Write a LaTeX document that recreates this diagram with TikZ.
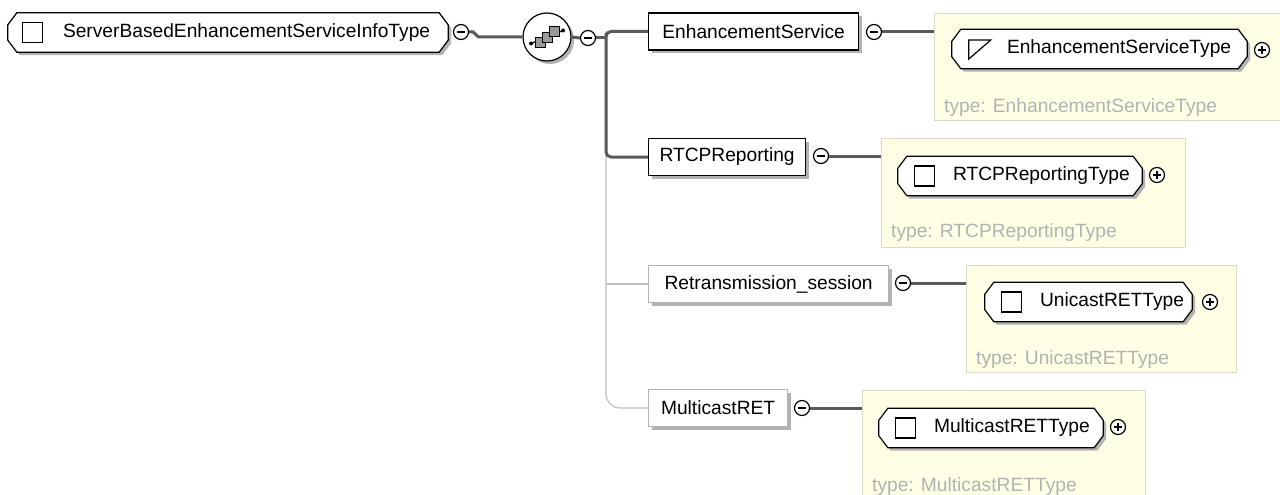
\documentclass[tikz,border=0pt]{standalone}
\usepackage{fontspec}
\setmainfont{Liberation Sans}
\usetikzlibrary{shadows, positioning, calc}
\definecolor{typebg}{HTML}{FFFFE6}
\definecolor{typeline}{HTML}{DADAC4}
\definecolor{connline}{HTML}{5A5A5A}
\newcommand{\ctframe}[1]{%
    \foreach \sx/\sy/\st in {3/3/ctshadow, 0/0/ctline}
        \path[\st] ($(#1.north west)+(9+\sx,\sy)$) -- ($(#1.north east)+(-9+\sx,\sy)$)
            -- ($(#1.north east)+(\sx,12+\sy)$) -- ($(#1.south east)+(\sx,-12+\sy)$)
            -- ($(#1.south east)+(-9+\sx,\sy)$) -- ($(#1.south west)+(9+\sx,\sy)$)
            -- ($(#1.south west)+(\sx,-12+\sy)$) -- ($(#1.north west)+(\sx,12+\sy)$) -- cycle;%
}

\begin{document}
\begin{tikzpicture}[
        x=1pt, y=-1pt,
        font=\fontsize{19.2}{22}\selectfont,
        dropsh/.style={drop shadow={shadow xshift=3pt, shadow yshift=-3pt, fill=black!30, opacity=1}},
        elem/.style={rectangle, draw=black, line width=1.2pt, fill=white, dropsh, minimum height=37pt, inner sep=0pt, anchor=west},
        optelem/.style={elem, draw=black!30},
        ctype/.style={rectangle, minimum height=39pt, inner sep=0pt},
        ctshadow/.style={fill=black!30},
        ctline/.style={draw=black, line width=1.2pt, fill=white},
        typearea/.style={rectangle, draw=typeline, line width=1pt, fill=typebg, anchor=north west, inner sep=0pt},
        typelbl/.style={text=black!30, anchor=west, inner sep=0pt},
        tname/.style={anchor=west, inner sep=0pt},
        sign/.style={circle, draw=black, line width=1.2pt, fill=white, minimum size=15pt, inner sep=0pt},
        collapse/.style={sign, path picture={\draw[line width=1.2pt] ([xshift=-4pt]path picture bounding box.center) -- ([xshift=4pt]path picture bounding box.center);}},
        expand/.style={sign, path picture={\draw[line width=1.2pt] ([xshift=-4pt]path picture bounding box.center) -- ([xshift=4pt]path picture bounding box.center) ([yshift=-4pt]path picture bounding box.center) -- ([yshift=4pt]path picture bounding box.center);}},
        conn/.style={draw=connline, line width=3pt},
        optline/.style={draw=black!25, line width=1.2pt},
        icon/.style={draw=black, line width=1.2pt}
    ]
        \useasboundingbox[fill=white] (0,0) rectangle (1280,495);

        \node[ctype, minimum width=440pt] (root) at (228,32.5) {};
        \ctframe{root}
        \draw[icon] ($(root.west)+(15,-10)$) rectangle ++(20,20);
        \node[tname] (rootname) at ($(root.west)+(55,0)$) {ServerBasedEnhancementServiceInfoType};
        \node[collapse] (rootc) at (461,32) {};

        \node[circle, draw=black, line width=1.2pt, fill=white, dropsh, minimum size=48pt] (seq) at (547,37) {};
        \draw[line width=1.2pt] ($(seq.center)+(-16,6.5)$) -- ($(seq.center)+(16,-6.5)$);
        \fill ($(seq.center)+(-16,6.5)$) circle (2pt) ($(seq.center)+(16,-6.5)$) circle (2pt);
        \foreach \d in {-7,0,7}
            \draw[fill=black!40, line width=0.9pt] ($(seq.center)+(\d,-0.8*\d)+(-5,-5)$) rectangle ++(10,10);
        \node[collapse] (seqc) at (588,38) {};
        \coordinate (bus) at (606,38);

        \node[elem, minimum width=210pt] (e1) at (648,31.5) {EnhancementService};
        \node[collapse] (e1c) at (874,32) {};
        \node[typearea, minimum width=351pt, minimum height=107pt] (a1) at (934,13) {};
        \node[ctype, minimum width=295pt] (o1) at (1099.5,49) {};
        \ctframe{o1}
        \draw[icon] ($(o1.west)+(17,-9)$) -- ++(22,0) -- ++(-22,19) -- cycle;
        \node[tname] (n1) at ($(o1.west)+(55,0)$) {EnhancementServiceType};
        \node[expand] (o1x) at (1262,50) {};
        \node[typelbl] (t1) at ($(a1.north west)+(10,95)$) {type: EnhancementServiceType};

        \node[elem, minimum width=157pt] (e2) at (648,157) {RTCPReporting};
        \node[collapse] (e2c) at (821,156) {};
        \node[typearea, minimum width=304pt, minimum height=109pt] (a2) at (881,138) {};
        \node[ctype, minimum width=244pt] (o2) at (1020,176) {};
        \ctframe{o2}
        \draw[icon] ($(o2.west)+(17,-10)$) rectangle ++(20,20);
        \node[tname] (n2) at ($(o2.west)+(55,0)$) {RTCPReportingType};
        \node[expand] (o2x) at (1157,175) {};
        \node[typelbl] (t2) at ($(a2.north west)+(10,95)$) {type: RTCPReportingType};

        \node[optelem, minimum width=240pt] (e3) at (648,284) {Retransmission\_session};
        \node[collapse] (e3c) at (903,283) {};
        \node[typearea, minimum width=270pt, minimum height=107pt] (a3) at (966,265) {};
        \node[ctype, minimum width=207pt] (o3) at (1088.5,302) {};
        \ctframe{o3}
        \draw[icon] ($(o3.west)+(17,-10)$) rectangle ++(20,20);
        \node[tname] (n3) at ($(o3.west)+(55,0)$) {UnicastRETType};
        \node[expand] (o3x) at (1210,302) {};
        \node[typelbl] (t3) at ($(a3.north west)+(10,95)$) {type: UnicastRETType};

        \node[optelem, minimum width=139pt] (e4) at (648,408) {MulticastRET};
        \node[collapse] (e4c) at (802,408) {};
        \node[typearea, minimum width=283pt, minimum height=115pt] (a4) at (862,390) {};
        \node[ctype, minimum width=224pt] (o4) at (991,428) {};
        \ctframe{o4}
        \draw[icon] ($(o4.west)+(17,-10)$) rectangle ++(20,20);
        \node[tname] (n4) at ($(o4.west)+(55,0)$) {MulticastRETType};
        \node[expand] (o4x) at (1118,427) {};
        \node[typelbl] (t4) at ($(a4.north west)+(10,97)$) {type: MulticastRETType};

        \draw[optline, rounded corners=14pt] (bus) |- (e4.west);
        \draw[optline] (e3.west -| bus) -- (e3.west);
        \draw[conn] (rootc.east) -- ++(4,0) -- ([xshift=-44pt]seq.west) -- (seq.west);
        \draw[conn] (seq.east) -- (seqc.west);
        \draw[conn] (seqc.east) -- (bus);
        \draw[conn, rounded corners=5pt] (e1.west) -| (bus) |- (e2.west);
        \draw[conn] (e1c.east) -- (e1c.east -| a1.west);
        \draw[conn] (e2c.east) -- (e2c.east -| a2.west);
        \draw[conn] (e3c.east) -- (e3c.east -| a3.west);
        \draw[conn] (e4c.east) -- (e4c.east -| a4.west);
    \end{tikzpicture}
\end{document}
